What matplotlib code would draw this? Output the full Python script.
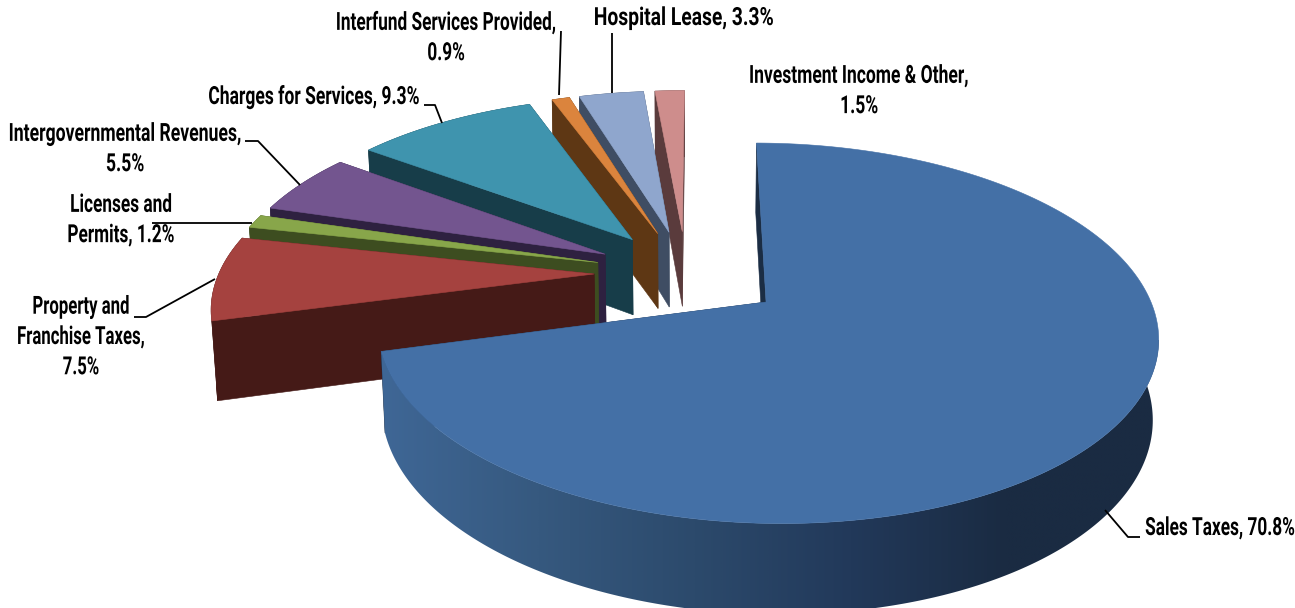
import numpy as np
import matplotlib
matplotlib.use("Agg")
import matplotlib.pyplot as plt
from matplotlib.patches import Polygon
from matplotlib.colors import LinearSegmentedColormap
from matplotlib.patheffects import AbstractPathEffect
from matplotlib.text import Text
from matplotlib.transforms import Affine2D, Bbox

# data
categories = ["Sales Taxes", "Property and\nFranchise Taxes", "Licenses and\nPermits",
              "Intergovernmental Revenues", "Charges for Services",
              "Interfund Services Provided", "Hospital Lease", "Investment Income & Other"]
values = [70.8, 7.5, 1.2, 5.5, 9.3, 0.9, 3.3, 1.5]
explode = [0.263, 0.245, 0.245, 0.245, 0.245, 0.245, 0.245, 0.245]
top_colors = ["#4470A6", "#A5423F", "#88A64A", "#73558F", "#3F94AE", "#DB843D", "#8FA6CD", "#CE8D8C"]
side_colors = ["#1B2D44", "#451A17", "#3D4D20", "#2E2140", "#173D49", "#5E3714", "#3F4D63", "#5A3B3C"]
rim_shades = ["#3F6796", "#36597F", "#2C4A6C", "#22395A", "#1A2B42", "#1A2B42"]

labels = [
    ("Sales Taxes, 70.8%", 1220, 528, 0.69),
    ("Property and\nFranchise Taxes,\n7.5%", 81, 337, 0.67),
    ("Licenses and\nPermits, 1.2%", 121, 220, 0.69),
    ("Intergovernmental Revenues,\n5.5%", 125, 149, 0.705),
    ("Charges for Services, 9.3%", 314, 97, 0.70),
    ("Interfund Services Provided,\n0.9%", 446, 38, 0.69),
    ("Hospital Lease, 3.3%", 684, 18, 0.77),
    ("Investment Income & Other,\n1.5%", 859, 91, 0.70),
]
leaders = [
    [(1105, 510), (1128, 537), (1140, 537)],
    [(134, 317), (146, 317), (215, 279)],
    [(152, 223), (252, 223)],
    [(245, 141), (258, 141), (300, 185)],
    [(424, 105), (435, 105), (442, 123)],
    [(561, 31), (559, 95)],
    [(612, 33), (612, 93)],
]

# projection of the pie (unit radius, y towards the back, z downwards negative)
CX, CY = 686, 273
SX, SY, H = 375, 175.7, 78
P, Q = 0.16, 0.012
START = 0.3


def project(X, Y, Z):
    w = 1 + P * Y - Q * Z
    return np.column_stack([CX + SX * X / w, CY - (SY * Y + H * Z) / w])


class Condense(AbstractPathEffect):
    """Squeezes each text line sideways about its own centre."""
    def __init__(self, factor):
        super().__init__()
        self.factor = factor

    def draw_path(self, renderer, gc, tpath, affine, rgbFace=None):
        ext = tpath.get_extents(affine)
        mid = (ext.x0 + ext.x1) / 2
        squeeze = Affine2D().translate(-mid, 0).scale(self.factor, 1).translate(mid, 0)
        renderer.draw_path(gc, tpath, affine + squeeze, rgbFace)


class NarrowText(Text):
    narrow = 1.0

    def get_window_extent(self, renderer=None, dpi=None):
        bb = super().get_window_extent(renderer, dpi)
        mid, half = (bb.x0 + bb.x1) / 2, bb.width * self.narrow / 2
        return Bbox.from_extents(mid - half, bb.y0, mid + half, bb.y1)


fig = plt.figure(figsize=(12.95, 6.08), dpi=100)
ax = fig.add_axes([0, 0, 1, 1])
ax.set_xlim(0, 1295)
ax.set_ylim(608, 0)
ax.axis("off")

edges = START + np.cumsum([0] + values) * 3.6
order = list(range(len(values) - 1, -1, -1))
rim_cmap = LinearSegmentedColormap.from_list("rim", rim_shades)


def poly(pts, color, z):
    p = Polygon(pts, closed=True, facecolor=color, edgecolor=color, lw=0.4, zorder=z)
    ax.add_patch(p)
    return p


for rank, i in enumerate(order):
    a0, a1 = np.radians(edges[i]), np.radians(edges[i + 1])
    mid = (a0 + a1) / 2
    ox, oy = explode[i] * np.sin(mid), explode[i] * np.cos(mid)
    t = np.linspace(a0, a1, max(8, int(values[i] * 5)))
    X, Y = ox + np.sin(t), oy + np.cos(t)
    zero = np.zeros_like(t)
    base = rank * 10
    # radial faces
    for ang in (a0, a1):
        ex, ey = ox + np.sin(ang), oy + np.cos(ang)
        pts = np.vstack([project(np.array([ox, ex]), np.array([oy, ey]), np.zeros(2)),
                         project(np.array([ex, ox]), np.array([ey, oy]), -np.ones(2))])
        poly(pts, side_colors[i], base + 1)
    # rim
    top = project(X, Y, zero)
    bot = project(X, Y, zero - 1)
    shell = np.vstack([top, bot[::-1]])
    rim = poly(shell, side_colors[i], base + 2)
    if i == 0:
        rim.set_facecolor("none")
        rim.set_edgecolor("none")
        grad = np.linspace(0, 1, 512)[None, :]
        im = ax.imshow(grad, cmap=rim_cmap, extent=(380, 1165, 608, 340), aspect="auto",
                       zorder=base + 2, interpolation="bilinear")
        im.set_clip_path(rim)
        ax.set_xlim(0, 1295)
        ax.set_ylim(608, 0)
    # top face
    outline = np.vstack([project(np.array([ox]), np.array([oy]), np.zeros(1)), top])
    poly(outline, top_colors[i], base + 3)

for seg in leaders:
    xs, ys = zip(*seg)
    ax.plot(xs, ys, color="black", lw=1.3, zorder=200, solid_capstyle="butt")

for text, x, y, factor in labels:
    lab = NarrowText(x, y, text, ha="center", va="center", multialignment="center",
                     family="Roboto", fontsize=18, weight="bold",
                     linespacing=1.33, color="black", zorder=210,
                     path_effects=[Condense(factor)])
    lab.narrow = factor
    ax.add_artist(lab)

fig.savefig("out.png", dpi=100)
